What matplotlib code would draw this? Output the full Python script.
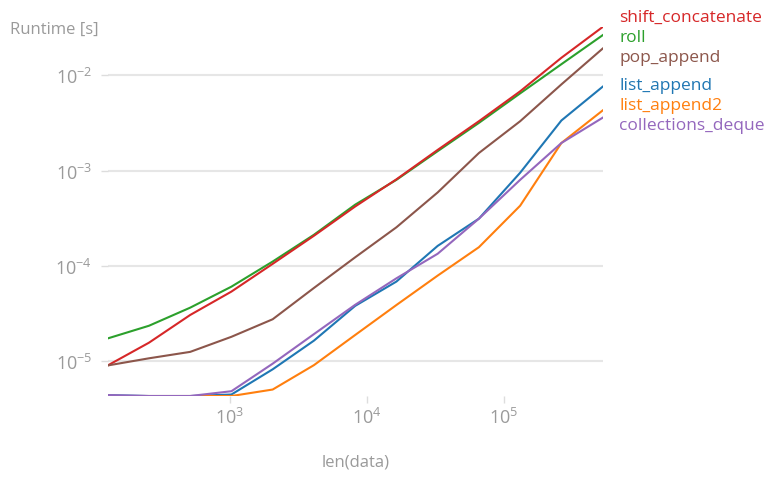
import numpy as np
import matplotlib
matplotlib.use("Agg")
import matplotlib.pyplot as plt
from matplotlib.ticker import NullLocator

plt.rcParams['font.family'] = ['Open Sans', 'DejaVu Sans']
plt.rcParams['mathtext.fontset'] = 'custom'
plt.rcParams['mathtext.rm'] = 'Open Sans'
plt.rcParams['mathtext.it'] = 'Open Sans:italic'
plt.rcParams['mathtext.default'] = 'regular'

n = [128, 256, 512, 1024, 2048, 4096, 8192, 16384, 32768, 65536, 131072, 262144, 524288]

shift_concatenate = [9.0e-6, 1.56e-5, 3.05e-5, 5.37e-5, 1.05e-4, 2.07e-4, 4.2e-4, 8.1e-4, 1.65e-3, 3.3e-3, 6.8e-3, 1.53e-2, 3.22e-2]
roll = [1.73e-5, 2.35e-5, 3.64e-5, 6.05e-5, 1.11e-4, 2.12e-4, 4.39e-4, 8.0e-4, 1.6e-3, 3.17e-3, 6.47e-3, 1.31e-2, 2.64e-2]
pop_append = [9.0e-6, 1.07e-5, 1.25e-5, 1.8e-5, 2.75e-5, 5.86e-5, 1.23e-4, 2.54e-4, 5.9e-4, 1.53e-3, 3.3e-3, 8.04e-3, 1.91e-2]
list_append = [4.39e-6, 4.3e-6, 4.3e-6, 4.46e-6, 8.2e-6, 1.64e-5, 3.8e-5, 6.84e-5, 1.62e-4, 3.13e-4, 9.5e-4, 3.36e-3, 7.6e-3]
list_append2 = [4.3e-6, 4.3e-6, 4.3e-6, 4.3e-6, 5.03e-6, 9.07e-6, 1.88e-5, 3.88e-5, 7.9e-5, 1.57e-4, 4.28e-4, 1.95e-3, 4.28e-3]
collections_deque = [4.4e-6, 4.3e-6, 4.3e-6, 4.83e-6, 9.4e-6, 1.92e-5, 3.9e-5, 7.4e-5, 1.34e-4, 3.13e-4, 8.0e-4, 1.95e-3, 3.59e-3]

series = [
    ("list_append", list_append, "#1f77b4"),
    ("list_append2", list_append2, "#ff7f0e"),
    ("roll", roll, "#2ca02c"),
    ("shift_concatenate", shift_concatenate, "#d62728"),
    ("collections_deque", collections_deque, "#9467bd"),
    ("pop_append", pop_append, "#8c564b"),
]

gray = "#9a9a9a"
fig = plt.figure(figsize=(7.77, 4.81), dpi=100)
ax = fig.add_axes([0.1386, 0.1746, 0.6370, 0.7672])

for name, vals, col in series:
    ax.plot(n, vals, color=col, lw=1.5)

ax.set_xscale("log")
ax.set_yscale("log")
ax.set_xlim(n[0], n[-1])
allv = np.concatenate([np.asarray(v) for _, v, _ in series])
ax.set_ylim(allv.min(), allv.max())
ax.xaxis.set_minor_locator(NullLocator())
ax.yaxis.set_minor_locator(NullLocator())

for s in ax.spines.values():
    s.set_visible(False)
ax.grid(axis="y", color="#e6e6e6", lw=1.5)
ax.set_axisbelow(True)
ax.tick_params(axis="both", colors="#dddddd", labelcolor=gray, length=5, width=1, labelsize=13)
ax.tick_params(axis="x", pad=3)
ax.tick_params(axis="y", pad=6)

fig.text(10 / 777, 1 - 30 / 481, "Runtime [s]", color=gray, fontsize=12, ha="left", va="center")
ax.set_xlabel("len(data)", color=gray, fontsize=12, labelpad=19)

# line labels with overlap avoidance (in log space)
min_dist = 0.21
targets = sorted([(np.log10(v[-1]), name, col) for name, v, col in series])
groups = [[t] for t in targets]
def centers(g):
    m = np.mean([t[0] for t in g])
    k = len(g)
    return [m + (i - (k - 1) / 2) * min_dist for i in range(k)]
changed = True
while changed:
    changed = False
    for i in range(len(groups) - 1):
        a, b = centers(groups[i]), centers(groups[i + 1])
        if b[0] - a[-1] < min_dist - 1e-9:
            groups[i] = groups[i] + groups[i + 1]
            del groups[i + 1]
            changed = True
            break
for g in groups:
    for (t, name, col), y in zip(g, centers(g)):
        ax.annotate(name, xy=(1.0, 10 ** y), xycoords=("axes fraction", "data"),
                    xytext=(12, 0), textcoords="offset points", color=col,
                    fontsize=12.5, ha="left", va="center", annotation_clip=False)

fig.savefig("out.png", dpi=100)
